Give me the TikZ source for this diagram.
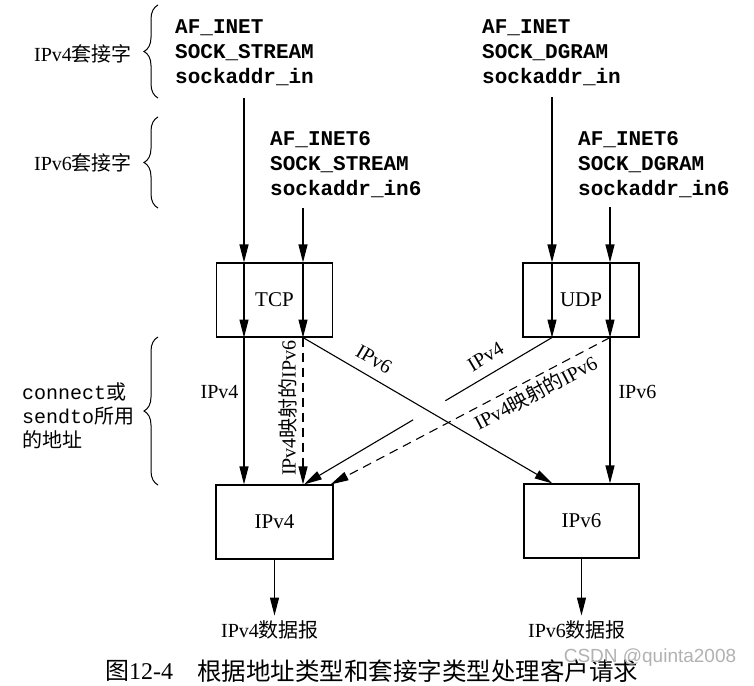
\documentclass[tikz,border=0pt]{standalone}
\usepackage{fontspec}
\setmainfont{Liberation Serif}
\setmonofont{Liberation Mono}
\setsansfont{Liberation Sans}
\newfontfamily\cjk{Noto Sans CJK SC}
\usetikzlibrary{arrows.meta,decorations.pathreplacing,calc}
\begin{document}
\begin{tikzpicture}[x=1pt,y=-1pt,
  box/.style={draw,line width=1.1pt,minimum width=116pt,minimum height=74pt,inner sep=0pt,font=\fontsize{21}{25}\selectfont},
  lbl/.style={font=\fontsize{20}{24}\selectfont,inner sep=0pt},
  code/.style={align=left,anchor=north west,font=\fontsize{21}{25}\selectfont\ttfamily\bfseries,inner sep=0pt},
  arr/.style={line width=1.1pt,-{Triangle[length=18pt,width=9pt]}},
  darr/.style={arr,dash pattern=on 9pt off 6pt},
  brc/.style={decorate,decoration={brace,amplitude=14pt},line width=1pt}]
\useasboundingbox[fill=white] (0,0) rectangle (754,685);

% code blocks
\node[code] (c1) at (175,19) {AF\_INET\\SOCK\_STREAM\\sockaddr\_in};
\node[code] (c2) at (270,131) {AF\_INET6\\SOCK\_STREAM\\sockaddr\_in6};
\node[code] (c3) at (482,19) {AF\_INET\\SOCK\_DGRAM\\sockaddr\_in};
\node[code] (c4) at (578,131) {AF\_INET6\\SOCK\_DGRAM\\sockaddr\_in6};

% braces and their labels
\draw[brc] (158,98) -- (158,5);
\node[lbl] (b1) at (83,54) {IPv4{\cjk 套接字}};
\draw[brc] (158,208) -- (158,117);
\node[lbl] (b2) at (83,163) {IPv6{\cjk 套接字}};
\draw[brc] (158,485) -- (158,337);
\node[lbl,align=left,anchor=west] (b3) at (22,416)
  {{\ttfamily connect}{\cjk 或}\\{\ttfamily sendto}{\cjk 所用}\\{\cjk 的地址}};

% boxes
\node[box] (tcp) at (274.5,300) {TCP};
\node[box] (udp) at (581,300) {UDP};
\node[box,minimum width=117pt] (ip4) at (274.5,522) {IPv4};
\node[box,minimum width=115pt] (ip6) at (581.5,521) {IPv6};

\node[lbl] (d4) at (270,630) {IPv4{\cjk 数据报}};
\node[lbl] (d6) at (577,630) {IPv6{\cjk 数据报}};

% start points
\coordinate (s1) at (244,98);
\coordinate (s2) at (303,208);
\coordinate (s3) at (552,97);
\coordinate (s4) at (610,207);
\coordinate (e6) at ($(ip6.north west)!0.25!(ip6.north east)$);
\coordinate (e4) at ($(ip4.north west)!0.75!(ip4.north east)$);
\coordinate (e4b) at ($(ip4.north west)!0.975!(ip4.north east)$);

% TCP side
\draw[arr] (s1) -- (s1 |- tcp.north);
\draw[arr] (s1 |- tcp.north) -- (s1 |- tcp.south);
\draw[arr] (s1 |- tcp.south) -- (s1 |- ip4.north)
  node[lbl,pos=0.37,left=5pt] {IPv4};
\draw[arr] (s2) -- (s2 |- tcp.north);
\draw[arr] (s2 |- tcp.north) -- (s2 |- tcp.south);
\draw[darr] (s2 |- tcp.south) -- (s2 |- ip4.north);
\node[lbl,rotate=90] (m1) at ($(s2 |- tcp.south)!0.48!(s2 |- ip4.north)+(-15,0)$) {IPv4{\cjk 映射的}IPv6};
\draw[arr] (s2 |- tcp.south) -- (e6)
  node[lbl,pos=0.25,sloped,above=10pt] {IPv6};

% UDP side
\draw[arr] (s3) -- (s3 |- udp.north);
\draw[arr] (s3 |- udp.north) -- (s3 |- udp.south);
\draw[arr] (s4) -- (s4 |- udp.north);
\draw[arr] (s4 |- udp.north) -- (s4 |- udp.south);
\draw[arr] (s4 |- udp.south) -- (s4 |- ip6.north)
  node[lbl,pos=0.37,right=8pt] {IPv6};
\draw[line width=1.1pt] (s3 |- udp.south) -- ($(s3 |- udp.south)!0.43!(e4)$)
  node[lbl,pos=0.54,sloped,above=10pt] {IPv4};
\draw[arr] ($(s3 |- udp.south)!0.56!(e4)$) -- (e4);
\draw[darr] (s4 |- udp.south) -- (e4b)
  node[lbl,pos=0.29,sloped,below=4pt] {IPv4{\cjk 映射的}IPv6};

% outputs
\draw[arr,shorten >=5pt] (ip4.south) -- (ip4.south |- d4.north);
\draw[arr,shorten >=5pt] (ip6.south) -- (ip6.south |- d6.north);

% caption
\node[anchor=west,inner sep=0pt,font=\fontsize{24}{28}\selectfont] (cap1) at (105,671) {{\cjk 图}12-4};
\node[anchor=west,inner sep=0pt,font=\fontsize{24.5}{28}\selectfont] (cap2) at (197,671) {\cjk 根据地址类型和套接字类型处理客户请求};
\node[inner sep=0pt,font=\fontsize{19}{22}\selectfont\sffamily,text=gray!60] (wm) at (650,658) {CSDN @quinta2008};
\end{tikzpicture}
\end{document}
